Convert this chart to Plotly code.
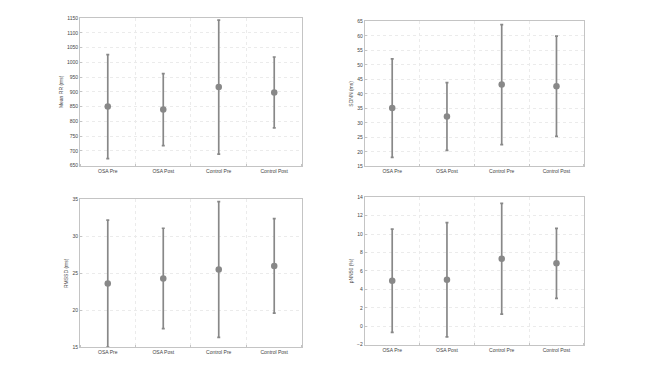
import plotly.graph_objects as go

categories = ["OSA Pre", "OSA Post", "Control Pre", "Control Post"]
cat_pos = [0.5, 1.5, 2.5, 3.5]

mean_rr = [850, 840, 916, 898]
mean_rr_sd = [176, 122, 227, 120]

sdnn = [35.1, 32.2, 43.2, 42.6]
sdnn_sd = [17.0, 11.7, 20.7, 17.3]

rmssd = [23.6, 24.3, 25.5, 26.0]
rmssd_sd = [8.6, 6.8, 9.2, 6.4]

pnn50 = [4.93, 5.04, 7.32, 6.82]
pnn50_sd = [5.6, 6.2, 6.0, 3.8]

panels = [
    dict(y=mean_rr, e=mean_rr_sd, title="Mean RR (ms)", rng=[650, 1150], dt=50,
         dx=[0.1235, 0.466], dy=[0.5556, 0.9589]),
    dict(y=sdnn, e=sdnn_sd, title="SDNN (ms)", rng=[15, 65], dt=5,
         dx=[0.563, 0.901], dy=[0.5538, 0.9497]),
    dict(y=rmssd, e=rmssd_sd, title="RMSSD (ms)", rng=[15, 35], dt=5,
         dx=[0.1235, 0.466], dy=[0.0600, 0.4632]),
    dict(y=pnn50, e=pnn50_sd, title="pNN50 (%)", rng=[-2, 14], dt=2,
         dx=[0.563, 0.901], dy=[0.0664, 0.4696]),
]

gray = "#888888"
fig = go.Figure()
layout = dict(
    width=648, height=372, margin=dict(l=0, r=0, t=0, b=0),
    paper_bgcolor="white", plot_bgcolor="white", showlegend=False,
    font=dict(family="Liberation Sans, Arial, sans-serif", size=5, color="#444444"),
)
for i, p in enumerate(panels):
    n = "" if i == 0 else str(i + 1)
    fig.add_trace(go.Scatter(
        x=cat_pos, y=p["y"], mode="markers",
        marker=dict(size=6.5, color=gray),
        error_y=dict(type="data", array=p["e"], color=gray, thickness=1.7, width=1.5),
        xaxis="x" + n, yaxis="y" + n, cliponaxis=False,
    ))
    layout["xaxis" + n] = dict(
        domain=p["dx"], anchor="y" + n, range=[0, 4],
        tickmode="array", tickvals=cat_pos, ticktext=categories,
        showgrid=False, zeroline=False, showline=True, mirror=True,
        linecolor="#c4c4c4", linewidth=1, ticks="", tickfont=dict(size=5),
        minor=dict(tickmode="linear", tick0=0, dtick=1, showgrid=True,
                   gridcolor="#ebebeb", griddash="dot", gridwidth=0.7,
                   ticks="inside", ticklen=2, tickcolor="#c4c4c4"),
    )
    layout["yaxis" + n] = dict(
        domain=p["dy"], anchor="x" + n, range=p["rng"],
        tickmode="linear", tick0=p["rng"][0], dtick=p["dt"],
        showgrid=True, gridcolor="#ebebeb", griddash="dot", gridwidth=0.7,
        zeroline=False, showline=True, mirror=True,
        linecolor="#c4c4c4", linewidth=1, ticks="inside", ticklen=2,
        tickcolor="#c4c4c4", tickfont=dict(size=5),
        title=dict(text=p["title"], font=dict(size=5), standoff=3),
    )
fig.update_layout(**layout)
fig.write_html("out.html", config={"displayModeBar": False},
               post_script="document.body.style.margin='0';")
